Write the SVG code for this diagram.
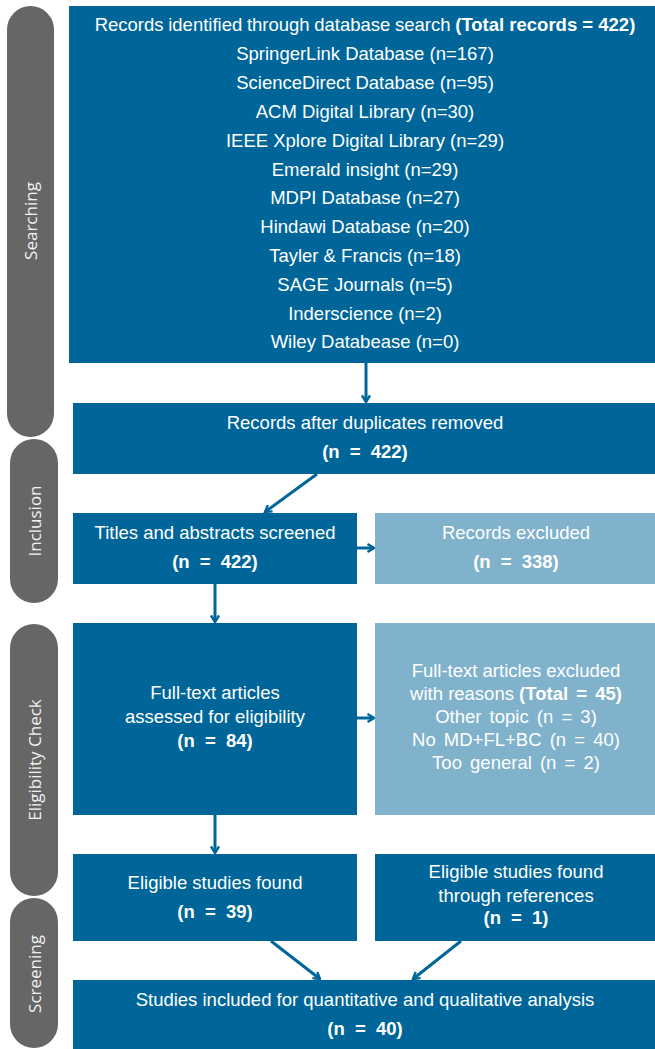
<svg xmlns="http://www.w3.org/2000/svg" width="655" height="1049" viewBox="0 0 655 1049">
<style>
.box{fill:#006699}
.lbox{fill:#80b2cc}
.lane{fill:#666666}
.t{font-family:"Liberation Sans",Arial,sans-serif;font-size:18.5px;fill:#ffffff;text-anchor:middle}
.b{font-weight:bold;word-spacing:5px}
.e{word-spacing:3px}
.ln{font-family:"Open Sans","Noto Sans",sans-serif;font-size:17px;fill:#f2f2f2;text-anchor:middle;dominant-baseline:central}
.c{stroke:#006699;stroke-width:3;fill:none;marker-end:url(#ah)}
</style>
<defs>
<marker id="ah" viewBox="0 0 10 10" refX="8.5" refY="5" markerWidth="10" markerHeight="10" markerUnits="userSpaceOnUse" orient="auto">
<path d="M2,1 L8.5,5 L2,9" fill="none" stroke="#006699" stroke-width="2.4"/>
</marker>
</defs>
<g id="lanes">
<g id="lane-searching"><rect class="lane" x="7" y="6" width="47" height="431" rx="23.5"/><text class="ln" transform="translate(30.5,221) rotate(-90)">Searching</text></g>
<g id="lane-inclusion"><rect class="lane" x="10" y="439" width="48" height="164" rx="24"/><text class="ln" transform="translate(34,521) rotate(-90)">Inclusion</text></g>
<g id="lane-eligibility"><rect class="lane" x="10" y="624" width="48" height="272" rx="24"/><text class="ln" transform="translate(34,760) rotate(-90)">Eligibility Check</text></g>
<g id="lane-screening"><rect class="lane" x="10" y="898" width="48" height="150" rx="24"/><text class="ln" transform="translate(34,974) rotate(-90)">Screening</text></g>
</g>
<g id="connectors">
<line class="c" x1="366" y1="363" x2="366" y2="402"/>
<line class="c" x1="317" y1="474" x2="265" y2="512"/>
<line class="c" x1="357" y1="548" x2="374" y2="548"/>
<line class="c" x1="215" y1="584" x2="215" y2="622"/>
<line class="c" x1="357" y1="718" x2="374" y2="718"/>
<line class="c" x1="215" y1="815" x2="215" y2="853"/>
<line class="c" x1="271" y1="941" x2="320" y2="979"/>
<line class="c" x1="461" y1="941" x2="413" y2="979"/>
</g>
<g id="n-search">
<rect class="box" x="69" y="6" width="586" height="357"/>
<text class="t" x="365" y="31" style="word-spacing:-0.5px">Records identified through database search <tspan class="b" style="word-spacing:0px">(Total records = 422)</tspan></text>
<text class="t" x="365" y="60">SpringerLink Database (n=167)</text>
<text class="t" x="365" y="89">ScienceDirect Database (n=95)</text>
<text class="t" x="365" y="118">ACM Digital Library (n=30)</text>
<text class="t" x="365" y="147">IEEE Xplore Digital Library (n=29)</text>
<text class="t" x="365" y="176">Emerald insight (n=29)</text>
<text class="t" x="365" y="204">MDPI Database (n=27)</text>
<text class="t" x="365" y="233">Hindawi Database (n=20)</text>
<text class="t" x="365" y="262">Tayler &amp; Francis (n=18)</text>
<text class="t" x="365" y="291">SAGE Journals (n=5)</text>
<text class="t" x="365" y="320">Inderscience (n=2)</text>
<text class="t" x="365" y="348">Wiley Databease (n=0)</text>
</g>
<g id="n-dup">
<rect class="box" x="73" y="403" width="582" height="71"/>
<text class="t" x="365" y="429">Records after duplicates removed</text>
<text class="t b" x="365" y="458">(n = 422)</text>
</g>
<g id="n-titles">
<rect class="box" x="73" y="513" width="284" height="71"/>
<text class="t" x="215" y="539">Titles and abstracts screened</text>
<text class="t b" x="215" y="568">(n = 422)</text>
</g>
<g id="n-excl">
<rect class="lbox" x="375" y="513" width="280" height="71"/>
<text class="t" x="516" y="539">Records excluded</text>
<text class="t b" x="516" y="568">(n = 338)</text>
</g>
<g id="n-full">
<rect class="box" x="73" y="623" width="284" height="192"/>
<text class="t" x="215" y="699">Full-text articles</text>
<text class="t" x="215" y="723">assessed for eligibility</text>
<text class="t b" x="215" y="747">(n = 84)</text>
</g>
<g id="n-fullexcl">
<rect class="lbox" x="375" y="623" width="280" height="192"/>
<text class="t" x="516" y="677">Full-text articles excluded</text>
<text class="t" x="516" y="700">with reasons <tspan class="b" style="word-spacing:3px">(Total = 45)</tspan></text>
<text class="t e" x="516" y="723">Other topic (n = 3)</text>
<text class="t e" x="516" y="746">No MD+FL+BC (n = 40)</text>
<text class="t e" x="516" y="769">Too general (n = 2)</text>
</g>
<g id="n-elig">
<rect class="box" x="73" y="854" width="284" height="87"/>
<text class="t" x="215" y="889">Eligible studies found</text>
<text class="t b" x="215" y="918">(n = 39)</text>
</g>
<g id="n-ref">
<rect class="box" x="375" y="854" width="280" height="87"/>
<text class="t" x="516" y="878">Eligible studies found</text>
<text class="t" x="516" y="902">through references</text>
<text class="t b" x="516" y="924">(n = 1)</text>
</g>
<g id="n-final">
<rect class="box" x="73" y="980" width="582" height="69"/>
<text class="t" x="365" y="1006">Studies included for quantitative and qualitative analysis</text>
<text class="t b" x="365" y="1035">(n = 40)</text>
</g>
</svg>
